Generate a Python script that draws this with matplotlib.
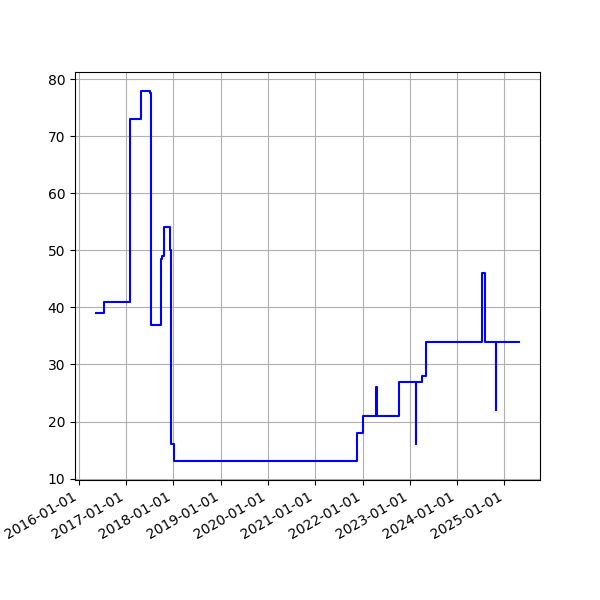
import numpy as np
import pandas as pd
import matplotlib
matplotlib.use('Agg')
import matplotlib.pyplot as plt
import matplotlib.dates as mdates

# Change dates and the value that holds from that date on
dates = [
    '2016-05-14', '2016-07-14', '2017-01-28', '2017-04-28', '2017-07-05',
    '2017-07-10', '2017-09-29', '2017-10-06', '2017-10-19', '2017-12-02',
    '2017-12-15', '2018-01-02', '2021-11-16', '2022-01-03', '2022-04-19',
    '2022-04-20', '2022-10-12', '2023-02-17', '2023-02-18', '2023-04-06',
    '2023-05-05', '2024-07-14', '2024-08-04', '2024-10-30', '2024-10-31',
    '2025-04-23',
]
values = [
    39, 41, 73, 78, 77.5,
    37, 48.5, 49, 54, 50,
    16, 13, 18, 21, 26,
    21, 27, 16, 27, 28,
    34, 46, 34, 22, 34,
    34,
]

x = pd.to_datetime(dates)

fig, ax = plt.subplots(figsize=(6, 6), dpi=100)
ax.step(x, values, where='post', color='blue')
ax.grid(True)
ax.xaxis.set_major_locator(mdates.YearLocator())
ax.xaxis.set_major_formatter(mdates.DateFormatter('%Y-%m-%d'))
fig.autofmt_xdate()
fig.savefig('out.png')
